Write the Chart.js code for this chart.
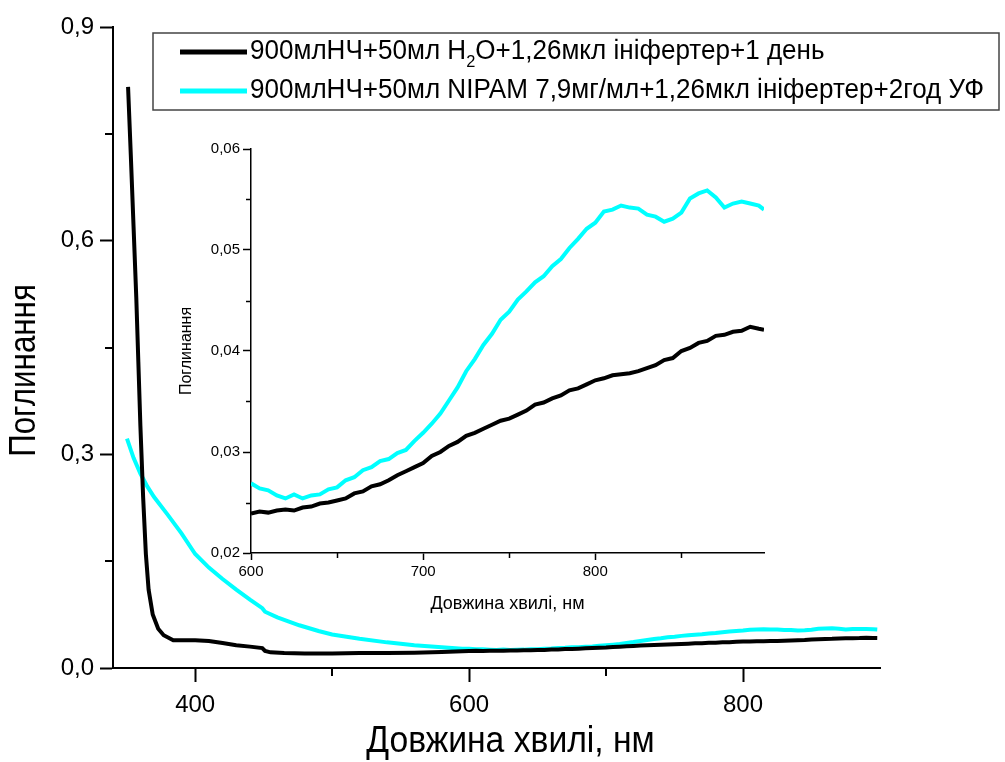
<!DOCTYPE html>
<html><head><meta charset="utf-8">
<script src="https://cdn.jsdelivr.net/npm/chart.js@4.4.0/dist/chart.umd.min.js"></script>
<style>
html,body{margin:0;padding:0;background:#fff;}
#wrap{position:relative;width:1005px;height:762px;overflow:hidden;}
#main{position:absolute;left:0;top:0;}
#inset{position:absolute;left:160px;top:130px;}
</style></head><body>
<div id="wrap"><canvas id="main" width="1005" height="762"></canvas><canvas id="inset" width="640" height="500"></canvas></div>
<script>
// ---------- data ----------
const seriesLabels = [
  '900млНЧ+50мл H₂O+1,26мкл ініфертер+1 день',
  '900млНЧ+50мл NIPAM 7,9мг/мл+1,26мкл ініфертер+2год УФ'
];
// main chart, short-wavelength part (nm)
const blackShortX = [351,353,355,357,358.5,360,362,364,366,369,373,377,384,390,400,410,420,430,440,449,451,455,465,480,500,520,540,560,580,595];
const blackShortY = [0.816,0.72,0.62,0.52,0.43,0.34,0.24,0.16,0.11,0.075,0.055,0.046,0.039,0.039,0.039,0.038,0.035,0.032,0.030,0.028,0.024,0.022,0.021,0.0205,0.0205,0.021,0.021,0.0215,0.0225,0.0235];
const cyanShortX = [350.2,355,360,365,370,380,390,400,410,420,430,440,449,451,460,476,490,500,520,540,560,580,595];
const cyanShortY = [0.322,0.295,0.273,0.255,0.240,0.215,0.189,0.160,0.141,0.125,0.110,0.096,0.084,0.079,0.071,0.060,0.052,0.047,0.041,0.036,0.032,0.029,0.027];
// 600–898 nm (used by inset and main chart)
const longX = [600,605,610,615,620,625,630,635,640,645,650,655,660,665,670,675,680,685,690,695,700,705,710,715,720,725,730,735,740,745,750,755,760,765,770,775,780,785,790,795,800,805,810,815,820,825,830,835,840,845,850,855,860,865,870,875,880,885,890,895,898];
const blackLongY = [0.0239,0.0241,0.0240,0.0242,0.0243,0.0242,0.0245,0.0246,0.0249,0.0250,0.0252,0.0254,0.0259,0.0261,0.0266,0.0268,0.0272,0.0277,0.0281,0.0285,0.0289,0.0296,0.0300,0.0306,0.0310,0.0316,0.0319,0.0323,0.0327,0.0331,0.0333,0.0337,0.0341,0.0347,0.0349,0.0353,0.0356,0.0361,0.0363,0.0367,0.0371,0.0373,0.0376,0.0377,0.0378,0.0380,0.0383,0.0386,0.0391,0.0393,0.0400,0.0403,0.0408,0.0410,0.0415,0.0416,0.0419,0.0420,0.0424,0.0422,0.0421];
const cyanLongY = [0.0269,0.0264,0.0262,0.0257,0.0254,0.0258,0.0254,0.0257,0.0258,0.0263,0.0265,0.0272,0.0275,0.0282,0.0285,0.0291,0.0293,0.0299,0.0302,0.0311,0.0319,0.0328,0.0338,0.0351,0.0364,0.0380,0.0392,0.0406,0.0417,0.0431,0.0439,0.0451,0.0459,0.0468,0.0474,0.0484,0.0491,0.0502,0.0511,0.0521,0.0527,0.0538,0.0540,0.0544,0.0542,0.0541,0.0535,0.0533,0.0528,0.0531,0.0537,0.0551,0.0556,0.0559,0.0552,0.0542,0.0546,0.0548,0.0546,0.0544,0.0540];
const mainXTicks = [400,600,800];
const mainYTicks = [0,0.3,0.6,0.9];
const mainXMinor = [500,700];
const mainYMinor = [0.15,0.45,0.75];
const insetXTicks = [600,700,800];
const insetYTicks = [0.02,0.03,0.04,0.05,0.06];
const insetXMinor = [650,750,850];
const insetYMinor = [0.025,0.035,0.045,0.055];
const xTitle = 'Довжина хвилі, нм';
const yTitle = 'Поглинання';

// ---------- helpers ----------
const FONT = "'Liberation Sans', Arial, sans-serif";
const pts = (xs, ys) => xs.map((x, i) => ({x, y: ys[i]}));
const comma = (v, d) => v.toFixed(d).replace('.', ',');

const minorTicks = {
  id: 'minorTicks',
  afterDraw(chart, args, o) {
    const ctx = chart.ctx;
    ctx.save(); ctx.strokeStyle = '#000'; ctx.lineWidth = o.width;
    for (const id of Object.keys(o.axes)) {
      const s = chart.scales[id];
      o.axes[id].forEach(v => {
        const p = Math.round(s.getPixelForValue(v)) + (o.width % 2 ? 0.5 : 0);
        ctx.beginPath();
        if (s.isHorizontal()) { const y0 = chart.chartArea.bottom; ctx.moveTo(p, y0); ctx.lineTo(p, y0 + o.len); }
        else { const x0 = chart.chartArea.left; ctx.moveTo(x0, p); ctx.lineTo(x0 - o.len, p); }
        ctx.stroke();
      });
    }
    ctx.restore();
  }
};

// axis titles placed relative to the chart area, with a narrow (condensed) look
const axisTitles = {
  id: 'axisTitles',
  afterDraw(chart, args, o) {
    const ctx = chart.ctx, a = chart.chartArea;
    o.items.forEach(t => {
      const x = t.axis === 'x' ? (a.left + a.right) / 2 + t.dx : t.pos;
      const y = t.axis === 'x' ? t.pos : (a.top + a.bottom) / 2 + t.dy;
      ctx.save(); ctx.translate(x, y); if (t.axis === 'y') ctx.rotate(-Math.PI / 2); ctx.scale(t.sx, 1);
      ctx.font = t.size + 'px ' + FONT; ctx.fillStyle = '#000'; ctx.textAlign = 'center'; ctx.textBaseline = 'middle';
      ctx.fillText(t.text, 0, 0); ctx.restore();
    });
  }
};

function drawLabel(ctx, text, x, y, size) {
  ctx.font = size + 'px ' + FONT;
  ctx.textBaseline = 'middle'; ctx.textAlign = 'left'; ctx.fillStyle = '#000';
  const idx = text.indexOf('₂');
  if (idx < 0) { ctx.fillText(text, x, y); return; }
  const a = text.slice(0, idx), b = text.slice(idx + 1);
  ctx.fillText(a, x, y); x += ctx.measureText(a).width;
  ctx.font = Math.round(size * 0.62) + 'px ' + FONT;
  ctx.fillText('2', x, y + size * 0.38); x += ctx.measureText('2').width;
  ctx.font = size + 'px ' + FONT;
  ctx.fillText(b, x, y);
}

const boxLegend = {
  id: 'boxLegend',
  afterDraw(chart, args, o) {
    const ctx = chart.ctx; ctx.save();
    ctx.strokeStyle = '#444'; ctx.lineWidth = 1.5;
    ctx.strokeRect(o.x, o.y, o.w, o.h);
    chart.data.datasets.forEach((ds, i) => {
      const y = o.y + o.first + i * o.gap;
      ctx.strokeStyle = ds.borderColor; ctx.lineWidth = 5; ctx.lineCap = 'butt';
      ctx.beginPath(); ctx.moveTo(o.l1, y); ctx.lineTo(o.l2, y); ctx.stroke();
      ctx.save(); ctx.translate(o.tx, y); ctx.scale(o.sx, 1);
      drawLabel(ctx, ds.label, 0, 0, o.size);
      ctx.restore();
    });
    ctx.restore();
  }
};

function axisCommon(extra) {
  return Object.assign({
    type: 'linear',
    border: {display: true, color: '#000', width: 2},
    grid: {display: true, drawOnChartArea: false, drawTicks: true, color: '#000', tickColor: '#000', tickWidth: 2},
  }, extra);
}

// ---------- main chart ----------
new Chart(document.getElementById('main'), {
  type: 'line',
  data: {datasets: [
    {label: seriesLabels[0], data: pts(blackShortX.concat(longX), blackShortY.concat(blackLongY)), borderColor: '#000000', borderWidth: 4, pointRadius: 0, tension: 0},
    {label: seriesLabels[1], data: pts(cyanShortX.concat(longX), cyanShortY.concat(cyanLongY)), borderColor: '#00ffff', borderWidth: 4, pointRadius: 0, tension: 0}
  ]},
  options: {
    responsive: false, animation: false, events: [],
    layout: {padding: {left: 0, right: 125, top: 27, bottom: 0}},
    plugins: {
      legend: {display: false}, tooltip: {enabled: false},
      minorTicks: {width: 2, len: 8, axes: {x: mainXMinor, y: mainYMinor}},
      boxLegend: {x: 153, y: 33, w: 846, h: 77, first: 19, gap: 39, l1: 180, l2: 247, tx: 250, size: 27, sx: 0.965},
      axisTitles: {items: [
        {axis: 'x', text: xTitle, pos: 742, dx: 14, size: 37, sx: 0.91},
        {axis: 'y', text: yTitle, pos: 25, dy: 23, size: 36, sx: 0.87}
      ]}
    },
    scales: {
      x: axisCommon({min: 340, max: 900,
        grid: {display: true, drawOnChartArea: false, color: '#000', tickColor: '#000', tickWidth: 2, tickLength: 14},
        afterBuildTicks: s => { s.ticks = mainXTicks.map(v => ({value: v})); },
        afterFit: s => { s.height = 94; },
        ticks: {color: '#000', font: {family: FONT, size: 24}, padding: 9, callback: v => String(v)},
        title: {display: false}
      }),
      y: axisCommon({min: 0, max: 0.9,
        grid: {display: true, drawOnChartArea: false, color: '#000', tickColor: '#000', tickWidth: 2, tickLength: 13},
        afterBuildTicks: s => { s.ticks = mainYTicks.map(v => ({value: v})); },
        afterFit: s => { s.width = 113; },
        ticks: {color: '#000', font: {family: FONT, size: 24}, padding: 6, callback: v => comma(v, 1)},
        title: {display: false}
      })
    }
  },
  plugins: [minorTicks, boxLegend, axisTitles]
});

// ---------- inset chart ----------
new Chart(document.getElementById('inset'), {
  type: 'line',
  data: {datasets: [
    {label: seriesLabels[0], data: pts(longX, blackLongY), borderColor: '#000000', borderWidth: 4, pointRadius: 0, tension: 0},
    {label: seriesLabels[1], data: pts(longX, cyanLongY), borderColor: '#00ffff', borderWidth: 4, pointRadius: 0, tension: 0}
  ]},
  options: {
    responsive: false, animation: false, events: [],
    layout: {padding: {left: 0, right: 36, top: 19, bottom: 0}},
    plugins: {
      legend: {display: false}, tooltip: {enabled: false},
      minorTicks: {width: 1.5, len: 5, axes: {x: insetXMinor, y: insetYMinor}}
    },
    scales: {
      x: axisCommon({min: 600, max: 898,
        border: {display: true, color: '#000', width: 1.5},
        grid: {display: true, drawOnChartArea: false, color: '#000', tickColor: '#000', tickWidth: 1.5, tickLength: 7},
        afterBuildTicks: s => { s.ticks = insetXTicks.map(v => ({value: v})); },
        afterFit: s => { s.height = 77; },
        ticks: {color: '#000', font: {family: FONT, size: 15}, padding: 3, callback: v => String(v)},
        title: {display: true, text: xTitle, color: '#000', font: {family: FONT, size: 18}, padding: {top: 0, bottom: 15}}
      }),
      y: axisCommon({min: 0.02, max: 0.06,
        border: {display: true, color: '#000', width: 1.5},
        grid: {display: true, drawOnChartArea: false, color: '#000', tickColor: '#000', tickWidth: 1.5, tickLength: 8},
        afterBuildTicks: s => { s.ticks = insetYTicks.map(v => ({value: v})); },
        afterFit: s => { s.width = 91; },
        ticks: {color: '#000', font: {family: FONT, size: 15}, padding: 3, callback: v => comma(v, 2)},
        title: {display: true, text: yTitle, color: '#000', font: {family: FONT, size: 16}, padding: {top: 17, bottom: 0}}
      })
    }
  },
  plugins: [minorTicks]
});
</script>
</body></html>
